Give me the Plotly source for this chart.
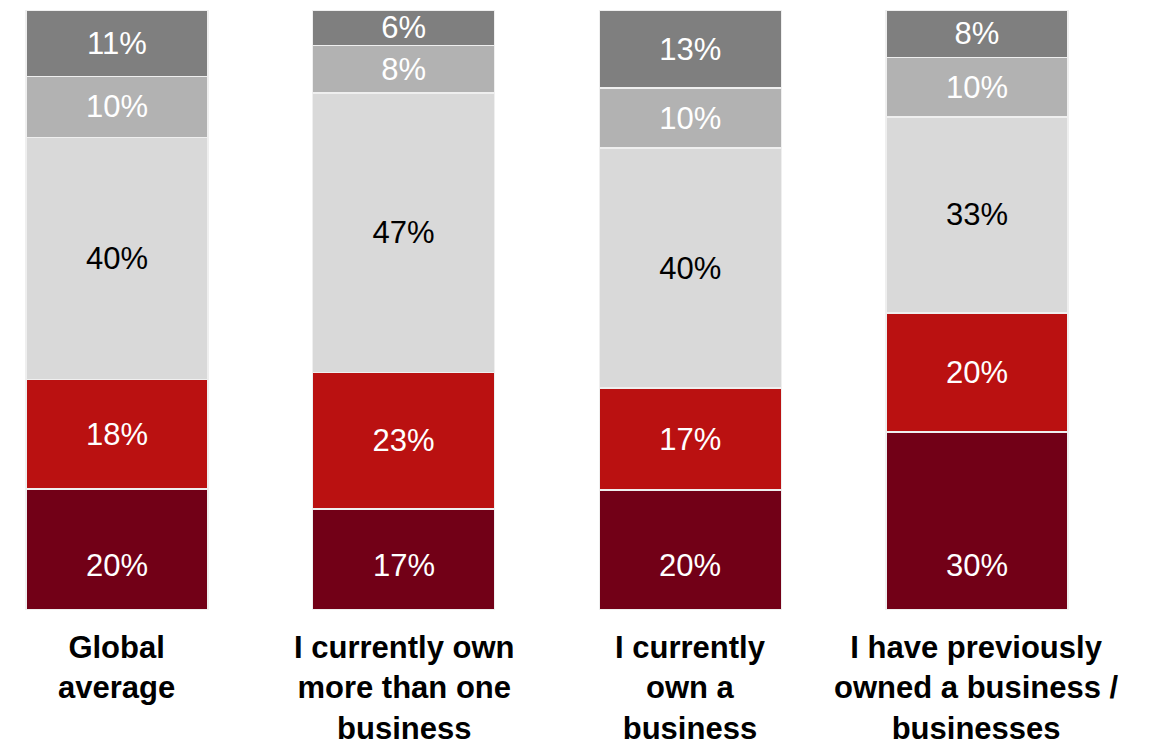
import plotly.graph_objects as go

# Respondent groups (x axis) and answer shares per segment, bottom to top
categories = [
    "Global<br>average",
    "I currently own<br>more than one<br>business",
    "I currently<br>own a<br>business",
    "I have previously<br>owned a business /<br>businesses",
]
seg1 = [20, 17, 20, 30]
seg2 = [18, 23, 17, 20]
seg3 = [40, 47, 40, 33]
seg4 = [10, 8, 10, 10]
seg5 = [11, 6, 13, 8]

series = [seg1, seg2, seg3, seg4, seg5]
colors = ["#720017", "#BA1111", "#D9D9D9", "#B2B2B2", "#7F7F7F"]
text_colors = ["#FFFFFF", "#FFFFFF", "#000000", "#FFFFFF", "#FFFFFF"]

FONT = "Liberation Sans, Arial, sans-serif"
BASE_LABEL_Y = 7.5  # bottom-segment labels sit on a common baseline row

fig = go.Figure()
for i, (vals, col, tcol) in enumerate(zip(series, colors, text_colors)):
    fig.add_trace(go.Bar(
        x=categories,
        y=vals,
        text=vals if i > 0 else None,
        texttemplate="%{text}%" if i > 0 else None,
        textposition="inside" if i > 0 else "none",
        insidetextanchor="middle",
        textangle=0,
        insidetextfont=dict(family=FONT, size=31, color=tcol),
        marker=dict(color=col, line=dict(color="#EFEFEF", width=1.5)),
        hoverinfo="skip",
    ))

# Bottom segment values, aligned on one row
for cat, v in zip(categories, seg1):
    fig.add_annotation(
        x=cat, y=BASE_LABEL_Y, xref="x", yref="y",
        text=f"{v}%", showarrow=False, yanchor="middle",
        font=dict(family=FONT, size=31, color=text_colors[0]),
    )

# Category labels under the bars
for cat in categories:
    fig.add_annotation(
        x=cat, y=0, xref="x", yref="paper",
        yanchor="top", yshift=-18,
        text=f"<b>{cat}</b>", showarrow=False,
        font=dict(family=FONT, size=31, color="#000000"),
        align="center",
    )

fig.update_layout(
    barmode="stack",
    barnorm="percent",
    bargap=0.365,
    width=1151, height=742,
    margin=dict(l=0, r=0, t=10, b=132),
    paper_bgcolor="white", plot_bgcolor="white",
    showlegend=False,
    uniformtext=dict(minsize=31, mode="show"),
    xaxis=dict(range=[-0.408, 3.607], showticklabels=False, showgrid=False,
               zeroline=False, showline=False, ticks=""),
    yaxis=dict(range=[0, 100], visible=False, showgrid=False, zeroline=False),
)

fig.write_html("out.html")
